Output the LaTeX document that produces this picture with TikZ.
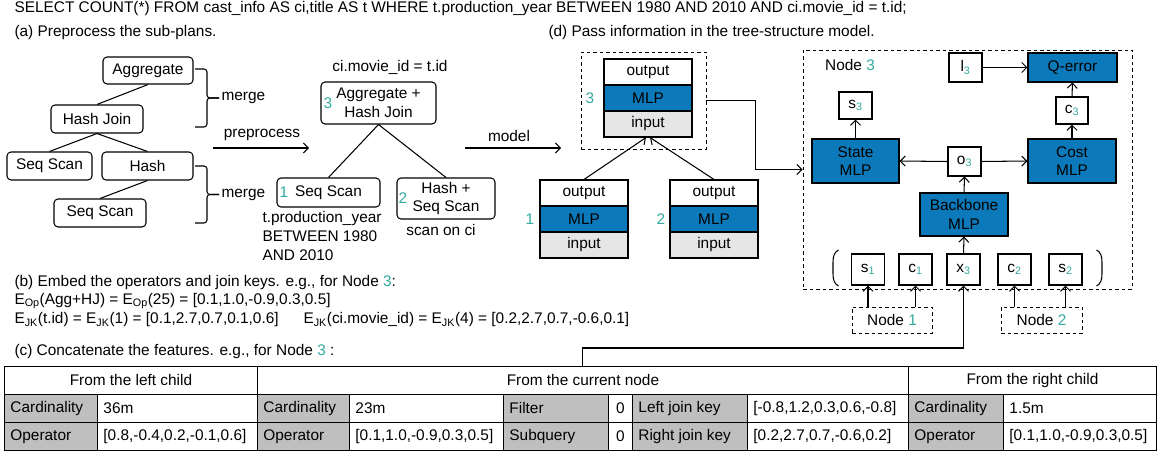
\documentclass[tikz,border=0pt]{standalone}
\usepackage{fontspec}
\setmainfont{Liberation Sans}
\usetikzlibrary{arrows.meta}
\definecolor{tealc}{RGB}{52,170,160}
\definecolor{mlpblue}{RGB}{12,122,186}
\definecolor{inputgray}{RGB}{230,230,230}
\definecolor{cellgray}{RGB}{191,191,191}
\newcommand{\tnum}[1]{\textcolor{tealc}{#1}}
\newcommand{\tsub}[1]{\textsubscript{\textcolor{tealc}{#1}}}
\newcommand{\mycell}[7]{\node[#5] (#1) at (#2,#4) {\makebox[\dimexpr#3pt-#2pt-12pt\relax][#6]{#7}};}
\begin{document}
\begin{tikzpicture}[x=1pt,y=-1pt,font=\fontsize{15.4}{18.5}\selectfont,line width=1.05pt,
  rbox/.style={draw,rounded corners=4pt,inner sep=0pt,align=center},
  sbox/.style={draw,inner sep=0pt,align=center},
  dbox/.style={draw,line width=0.9pt,dash pattern=on 3.5pt off 3pt,inner sep=0pt},
  arr/.style={-{Straight Barb[length=5pt,width=10pt]}},
  txt/.style={inner sep=0pt},
  tcell/.style={draw,line width=0.9pt,inner xsep=6pt,inner ysep=0pt,minimum height=28pt,anchor=north west},
  gcell/.style={tcell,fill=cellgray}]
\useasboundingbox (0,0) rectangle (1159,454);

% captions
\node[txt,anchor=west] (sql) at (14,9) {SELECT COUNT(*) FROM cast\_info AS ci,title AS t WHERE t.production\_year BETWEEN 1980 AND 2010 AND ci.movie\_id = t.id;};
\node[txt,anchor=west] (capa) at (14,33) {(a) Preprocess the sub-plans.};
\node[txt,anchor=west] (capd) at (548,33) {(d) Pass information in the tree-structure model.};

% (a) original plan
\node[rbox,minimum width=90,minimum height=27] (agg) at (148,70.5) {Aggregate};
\node[rbox,minimum width=92,minimum height=28] (hj) at (97,119) {Hash Join};
\node[rbox,minimum width=85,minimum height=28] (ssl) at (49.5,166) {Seq Scan};
\node[rbox,minimum width=91,minimum height=28] (hsh) at (147.5,166) {Hash};
\node[rbox,minimum width=92,minimum height=28] (ssb) at (100,213) {Seq Scan};
\draw (agg.south) -- (hj.north);
\draw (hj.south) -- (ssl.north);
\draw (hj.south) -- (hsh.north);
\draw (hsh.south) -- (ssb.north);

% braces
\draw[rounded corners=3pt] (195,69) -- (207,69) -- (207,98) -- (219,98);
\draw[rounded corners=3pt] (195,127) -- (207,127) -- (207,98) -- (219,98);
\draw[rounded corners=3pt] (195,166) -- (207,166) -- (207,194.5) -- (219,194.5);
\draw[rounded corners=3pt] (195,223) -- (207,223) -- (207,194.5) -- (219,194.5);
\node[txt,anchor=west] (m1) at (221,98) {merge};
\node[txt,anchor=west] (m2) at (221,195) {merge};

% preprocess arrow
\coordinate (pa) at (213,148);
\coordinate (pb) at (309,148);
\draw[arr] (pa) -- (pb);
\node[txt] (ppl) at (262,135) {preprocess};

% preprocessed tree
\node[txt] (cieq) at (390,67) {ci.movie\_id = t.id};
\node[rbox,minimum width=115,minimum height=42] (aghj) at (378.5,103) {Aggregate +\\Hash Join};
\node[txt,text=tealc] (l3n) at (328,103) {3};
\node[rbox,minimum width=103,minimum height=29] (ss1) at (328.5,192.5) {Seq Scan};
\node[txt,text=tealc] (l1n) at (284,192.5) {1};
\node[rbox,minimum width=98,minimum height=41] (hs) at (446,198.5) {Hash +\\Seq Scan};
\node[txt,text=tealc] (l2n) at (403,198) {2};
\draw (aghj.south) -- (ss1.north);
\draw (aghj.south) -- (hs.north);
\node[txt,anchor=north west,align=left,font=\fontsize{15.4}{19}\selectfont] (filt) at (262,211) {t.production\_year\\BETWEEN 1980\\AND 2010};
\node[txt] (scan) at (441,230) {scan on ci};

% model arrow
\coordinate (ma) at (465,148);
\coordinate (mb) at (561,148);
\draw[arr] (ma) -- (mb);
\node[txt] (mdl) at (509,136) {model};

% (d) stacks
\node[dbox,minimum width=125,minimum height=97] (d3) at (643.5,100.5) {};
\node[sbox,minimum width=88,minimum height=26,fill=white] (n3o) at (648,72) {output};
\node[sbox,minimum width=88,minimum height=26,fill=mlpblue] (n3m) at (648,98) {MLP};
\node[sbox,minimum width=88,minimum height=26,fill=inputgray] (n3i) at (648,124) {input};
\node[txt,text=tealc] (s3n) at (590,98) {3};

\node[sbox,minimum width=88,minimum height=26,fill=white] (n1o) at (584,193) {output};
\node[sbox,minimum width=88,minimum height=26,fill=mlpblue] (n1m) at (584,219) {MLP};
\node[sbox,minimum width=88,minimum height=26,fill=inputgray] (n1i) at (584,245) {input};
\node[txt,text=tealc] (s1n) at (530,219) {1};

\node[sbox,minimum width=88,minimum height=26,fill=white] (n2o) at (714,193) {output};
\node[sbox,minimum width=88,minimum height=26,fill=mlpblue] (n2m) at (714,219) {MLP};
\node[sbox,minimum width=88,minimum height=26,fill=inputgray] (n2i) at (714,245) {input};
\node[txt,text=tealc] (s2n) at (661,219) {2};

\draw[arr] (n1o.north) -- ([xshift=-2pt]n3i.south);
\draw[arr] (n2o.north) -- ([xshift=2pt]n3i.south);

% Node 3 detail
\node[dbox,minimum width=329,minimum height=239] (big) at (967.5,169.5) {};
\draw[arr] (d3.east) -- ++(49,0) |- (big.west);
\node[txt] (nd3) at (850,65) {Node \tnum{3}};
\node[sbox,minimum width=33,minimum height=29] (l3) at (965.5,67.5) {l\tsub{3}};
\node[sbox,fill=mlpblue,minimum width=89,minimum height=29] (qe) at (1072.5,67.5) {Q-error};
\node[sbox,minimum width=33,minimum height=27] (s3) at (855.5,105.5) {s\tsub{3}};
\node[sbox,fill=mlpblue,minimum width=87,minimum height=44] (sm) at (855.5,161) {State\\MLP};
\node[sbox,minimum width=33,minimum height=29] (o3) at (964.5,161.5) {o\tsub{3}};
\node[sbox,fill=mlpblue,minimum width=88,minimum height=44] (cm) at (1072,161) {Cost\\MLP};
\node[sbox,minimum width=32,minimum height=27] (c3) at (1072,110.5) {c\tsub{3}};
\node[sbox,fill=mlpblue,minimum width=88,minimum height=43] (bb) at (964,214.5) {Backbone\\MLP};
\node[sbox,minimum width=33,minimum height=31] (s1) at (868,269.5) {s\tsub{1}};
\node[sbox,minimum width=33,minimum height=31] (c1) at (915.5,269.5) {c\tsub{1}};
\node[sbox,minimum width=33,minimum height=31] (x3) at (963.5,269.5) {x\tsub{3}};
\node[sbox,minimum width=33,minimum height=31] (c2) at (1014.5,269.5) {c\tsub{2}};
\node[sbox,minimum width=33,minimum height=31] (s2) at (1065.5,269.5) {s\tsub{2}};
\draw (838.5,250) .. controls (834.5,252) and (833,256) .. (833,262) -- (833,274) .. controls (833,280) and (834.5,284) .. (838.5,286);
\draw (1096.5,250) .. controls (1100.5,252) and (1102,256) .. (1102,262) -- (1102,274) .. controls (1102,280) and (1100.5,284) .. (1096.5,286);

\draw[arr] (l3.east) -- (qe.west);
\draw[arr] (c3.north) -- (qe.south);
\draw[arr] (cm.north) -- (c3.south);
\draw[arr] (sm.north) -- (s3.south);
\draw[arr] (o3.west) -- (sm.east);
\draw[arr] (o3.east) -- (cm.west);
\draw[arr] (bb.north) -- (o3.south);
\draw[arr] (x3.north) -- (bb.south);

\node[dbox,minimum width=80,minimum height=26] (nd1) at (892,320) {Node \tnum{1}};
\node[dbox,minimum width=81,minimum height=26] (nd2) at (1041.5,320) {Node \tnum{2}};
\draw[arr] (nd1.north -| s1.south) -- (s1.south);
\draw[arr] (nd1.north -| c1.south) -- (c1.south);
\draw[arr] (nd2.north -| c2.south) -- (c2.south);
\draw[arr] (nd2.north -| s2.south) -- (s2.south);

% (b), (c)
\node[txt,anchor=west] (capb) at (14,283) {(b) Embed the operators and join keys. e.g., for Node \tnum{3}:};
\node[txt,anchor=west] (eop) at (14,301) {E\textsubscript{Op}(Agg+HJ) = E\textsubscript{Op}(25) = [0.1,1.0,-0.9,0.3,0.5]};
\node[txt,anchor=west] (ejk1) at (14,320) {E\textsubscript{JK}(t.id) = E\textsubscript{JK}(1) = [0.1,2.7,0.7,0.1,0.6]};
\node[txt,anchor=west] (ejk2) at (303,320) {E\textsubscript{JK}(ci.movie\_id) = E\textsubscript{JK}(4) = [0.2,2.7,0.7,-0.6,0.1]};
\node[txt,anchor=west] (capc) at (14,352) {(c) Concatenate the features. e.g., for Node \tnum{3} :};

% table
\mycell{h1}{4}{257}{366}{tcell}{c}{From the left child}
\mycell{h2}{257}{908}{366}{tcell}{c}{From the current node}
\mycell{h3}{908}{1156}{366}{tcell}{c}{From the right child}
\mycell{a1}{4}{97}{394}{gcell}{l}{Cardinality}
\mycell{a2}{97}{257}{394}{tcell}{l}{36m}
\mycell{a3}{257}{349}{394}{gcell}{l}{Cardinality}
\mycell{a4}{349}{503}{394}{tcell}{l}{23m}
\mycell{a5}{503}{608}{394}{gcell}{l}{Filter}
\mycell{a6}{608}{632}{394}{tcell}{c}{0}
\mycell{a7}{632}{747}{394}{gcell}{l}{Left join key}
\mycell{a8}{747}{908}{394}{tcell}{l}{[-0.8,1.2,0.3,0.6,-0.8]}
\mycell{a9}{908}{1003}{394}{gcell}{l}{Cardinality}
\mycell{a10}{1003}{1156}{394}{tcell}{l}{1.5m}
\mycell{b1}{4}{97}{422}{gcell}{l}{Operator}
\mycell{b2}{97}{257}{422}{tcell}{l}{[0.8,-0.4,0.2,-0.1,0.6]}
\mycell{b3}{257}{349}{422}{gcell}{l}{Operator}
\mycell{b4}{349}{503}{422}{tcell}{l}{[0.1,1.0,-0.9,0.3,0.5]}
\mycell{b5}{503}{608}{422}{gcell}{l}{Subquery}
\mycell{b6}{608}{632}{422}{tcell}{c}{0}
\mycell{b7}{632}{747}{422}{gcell}{l}{Right join key}
\mycell{b8}{747}{908}{422}{tcell}{l}{[0.2,2.7,0.7,-0.6,0.2]}
\mycell{b9}{908}{1003}{422}{gcell}{l}{Operator}
\mycell{b10}{1003}{1156}{422}{tcell}{l}{[0.1,1.0,-0.9,0.3,0.5]}

\draw[arr] (h2.north) -- ++(0,-18) -| (x3.south);
\end{tikzpicture}
\end{document}
